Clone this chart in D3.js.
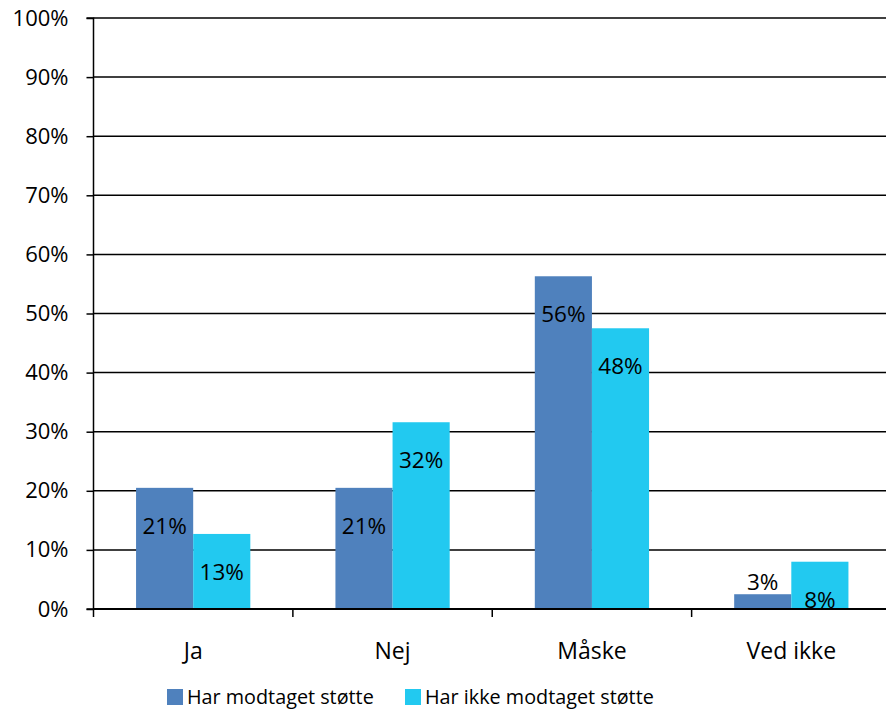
<!DOCTYPE html>
<html><head><meta charset="utf-8">
<script src="https://cdn.jsdelivr.net/npm/d3@7"></script>
<style>body{margin:0;background:#fff;}svg{display:block;font-family:"Open Sans",sans-serif;}</style>
</head><body>
<svg id="c" width="886" height="710"></svg>
<script>
const categories = ["Ja", "Nej", "Måske", "Ved ikke"];
const seriesNames = ["Har modtaget støtte", "Har ikke modtaget støtte"];
const received = [20.5, 20.5, 56.3, 2.5];
const notReceived = [12.7, 31.6, 47.5, 8.0];
const yTicks = [0, 10, 20, 30, 40, 50, 60, 70, 80, 90, 100];
const colors = ["#4F81BD", "#22C9F0"];

const svg = d3.select("#c");
const L = 93.5, R = 891, T = 18, B = 609;
const x0 = d3.scaleBand().domain(categories).range([L, R]).padding(0);
const x1 = d3.scaleBand().domain(seriesNames).range([0, x0.bandwidth()]).paddingInner(0).paddingOuter(0.745);
const y = d3.scaleLinear().domain([0, 100]).range([B, T]);

// gridlines
svg.append("g").selectAll("line").data(yTicks.filter(d => d > 0)).join("line")
  .attr("x1", L).attr("x2", R).attr("y1", d => y(d)).attr("y2", d => y(d))
  .attr("stroke", "#000").attr("stroke-width", 1.5);

// y axis
const yAxis = d3.axisLeft(y).tickValues(yTicks).tickFormat(d => d + "%").tickSize(7).tickPadding(18);
const gy = svg.append("g").attr("transform", `translate(${L},0)`).call(yAxis);
gy.select(".domain").attr("stroke", "#000").attr("stroke-width", 1.5).attr("d", `M-7,${T}H0V${B}H-7`);
gy.selectAll(".tick line").attr("stroke", "#000").attr("stroke-width", 1.5);
gy.selectAll("text").attr("font-family", "Open Sans").attr("font-size", 22).attr("fill", "#000");

// bars
const rows = categories.map((c, i) => ({c, vals: [received[i], notReceived[i]]}));
const g = svg.append("g");
rows.forEach(r => {
  r.vals.forEach((v, j) => {
    const bx = x0(r.c) + x1(seriesNames[j]);
    g.append("rect").attr("x", bx).attr("y", y(v)).attr("width", x1.bandwidth())
      .attr("height", B - y(v)).attr("fill", colors[j]);
  });
});

// x axis
const xAxis = d3.axisBottom(x0).tickSize(0).tickPadding(34);
const gx = svg.append("g").attr("transform", `translate(0,${B})`).call(xAxis);
gx.select(".domain").remove();
gx.selectAll("text").attr("font-family", "Open Sans").attr("font-size", 23).attr("fill", "#000");
svg.append("line").attr("x1", L).attr("x2", R).attr("y1", B).attr("y2", B).attr("stroke", "#000").attr("stroke-width", 2);
svg.append("g").selectAll("line").data(categories).join("line")
  .attr("x1", d => x0(d)).attr("x2", d => x0(d)).attr("y1", B).attr("y2", B + 8)
  .attr("stroke", "#000").attr("stroke-width", 1.5);

// labels
rows.forEach(r => {
  r.vals.forEach((v, j) => {
    const cx = x0(r.c) + x1(seriesNames[j]) + x1.bandwidth() / 2;
    const cy = v < 5 ? y(v) - 12 : y(v) + 38;
    svg.append("text").attr("x", cx).attr("y", cy).attr("dy", "0.35em")
      .attr("text-anchor", "middle").attr("font-size", 22.5).attr("fill", "#000")
      .text(Math.round(v) + "%");
  });
});

// legend
const legX = [167, 405];
seriesNames.forEach((s, i) => {
  svg.append("rect").attr("x", legX[i]).attr("y", 689).attr("width", 16).attr("height", 16).attr("fill", colors[i]);
  svg.append("text").attr("x", legX[i] + 20).attr("y", 697).attr("dy", "0.35em")
    .attr("font-size", 19.8).attr("fill", "#000").text(s);
});
</script>
</body></html>
